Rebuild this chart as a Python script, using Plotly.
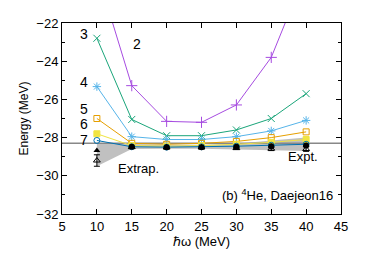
import plotly.graph_objects as go

hw = [10, 15, 20, 25, 30, 35, 40]

n2 = [-19.3, -25.28, -27.15, -27.2, -26.29, -23.8, -19.3]
n3 = [-22.8, -27.05, -27.9, -27.9, -27.6, -27.0, -25.7]
n4 = [-25.33, -27.95, -28.1, -28.1, -27.95, -27.65, -27.1]
n5 = [-27.0, -28.3, -28.35, -28.3, -28.2, -28.0, -27.7]
n6 = [-27.8, -28.42, -28.45, -28.42, -28.35, -28.25, -28.1]
n7 = [-28.15, -28.48, -28.5, -28.48, -28.45, -28.4, -28.35]
n8 = [-28.67, -28.48, -28.5, -28.5, -28.48, -28.45, -28.42]
extrap = [-29.2, -28.5, -28.52, -28.52, -28.55, -28.58, -28.6]
extrap_err = [0.3, 0.05, 0.04, 0.04, 0.06, 0.1, 0.12]
band_hi = [-28.3, -28.35, -28.38, -28.38, -28.32, -28.15, -28.0]
band_lo = [-29.5, -28.6, -28.58, -28.58, -28.62, -28.66, -28.7]
expt = -28.296

labels = ["2", "3", "4", "5", "6", "7"]
label_x = [15.8, 8.2, 8.2, 8.2, 8.2, 8.2]
label_y = [-23.1, -22.6, -25.1, -26.5, -27.3, -28.1]

fig = go.Figure()

# gray extrapolation band
fig.add_trace(go.Scatter(x=hw + hw[::-1], y=band_hi + band_lo[::-1], fill="toself",
                         fillcolor="rgba(150,150,150,0.6)", line=dict(width=0),
                         mode="lines", hoverinfo="skip", showlegend=False))

# experiment line
fig.add_trace(go.Scatter(x=[5, 45], y=[expt, expt], mode="lines",
                         line=dict(color="#888888", width=1.5), showlegend=False))

series = [
    (n2, "#a64be0", "cross-thin", 8),
    (n3, "#1aa57a", "x-thin", 7),
    (n4, "#56b4e9", "asterisk", 7),
    (n5, "#e69f00", "square-open", 6),
    (n6, "#f0e442", "square", 6),
    (n7, "#0072b2", "circle-open", 6),
]
for ys, col, sym, sz in series:
    fig.add_trace(go.Scatter(x=hw, y=ys, mode="lines+markers",
                             line=dict(color=col, width=1),
                             marker=dict(symbol=sym, size=sz, color=col,
                                         line=dict(color=col, width=1)),
                             showlegend=False))

fig.add_trace(go.Scatter(x=hw[1:], y=n8[1:], mode="markers",
                         marker=dict(symbol="circle", size=6, color="black"),
                         showlegend=False))
fig.add_trace(go.Scatter(x=hw, y=n8, mode="markers",
                         marker=dict(symbol="triangle-up", size=6, color="black"),
                         showlegend=False))
fig.add_trace(go.Scatter(x=hw, y=extrap, mode="markers",
                         error_y=dict(type="data", array=extrap_err, color="black",
                                      thickness=1, width=3),
                         marker=dict(symbol="triangle-up-open", size=6, color="black",
                                     line=dict(width=1)),
                         showlegend=False))

for t, lx, ly in zip(labels, label_x, label_y):
    fig.add_annotation(x=lx, y=ly, text=t, showarrow=False,
                       font=dict(size=14, color="black"))

fig.add_annotation(x=15.9, y=-29.6, text="Extrap.", showarrow=False,
                   font=dict(size=13, color="black"))
fig.add_annotation(x=39.6, y=-29.0, text="Expt.", showarrow=False,
                   font=dict(size=13, color="black"))
fig.add_annotation(x=44.2, y=-31.0, text="(b) <sup>4</sup>He, Daejeon16",
                   showarrow=False, xanchor="right",
                   font=dict(size=13, color="black"))

axis_common = dict(showline=True, linecolor="black", linewidth=1, mirror="ticks",
                   ticks="inside", ticklen=5, tickcolor="black", showgrid=False,
                   zeroline=False, tickfont=dict(size=13, color="black"))

fig.update_xaxes(range=[5, 45], dtick=5, tick0=5,
                 title=dict(text="ℏω (MeV)", font=dict(size=13, color="black"), standoff=3),
                 **axis_common)
fig.update_yaxes(range=[-32, -22], dtick=2,
                 minor=dict(dtick=1, ticks="inside", ticklen=3, tickcolor="black"),
                 title=dict(text="Energy (MeV)", font=dict(size=12, color="black"), standoff=5),
                 **axis_common)

fig.update_layout(width=366, height=254, margin=dict(l=54, r=33, t=8, b=48),
                  plot_bgcolor="white", paper_bgcolor="white",
                  font=dict(family="Liberation Sans, Arial, sans-serif", color="black"))

fig.write_html("out.html")
